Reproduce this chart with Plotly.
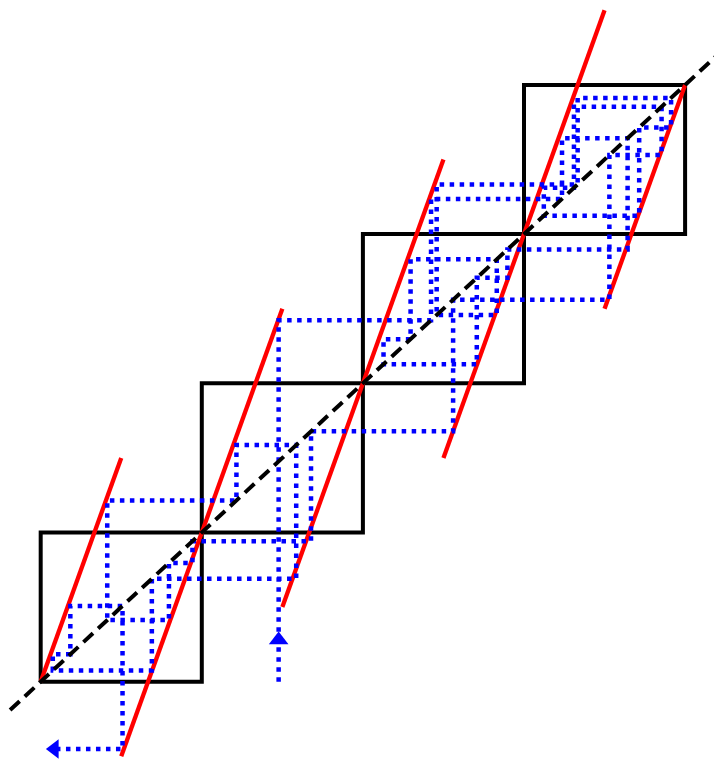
import plotly.graph_objects as go

# cobweb orbit, values (x of each vertical / y of each horizontal)
orbit = [1.477, 2.423, 3.236, 3.643, 2.897, 2.707, 2.128, 2.296, 2.831, 2.458,
         3.333, 3.913, 3.715, 3.123, 3.31, 3.854, 3.53, 2.56, 1.678, 0.942,
         0.796, 0.413, 1.215, 1.586, 0.69, 0.075, 0.184, 0.508]
orbit_end = -0.451
arrow_tip_x = 0.085
start_arrow_y = 0.28

# red map pieces (slope 3)
red_x_start = [0.0, 0.5, 1.5, 2.5, 3.5]
red_y_start = [0.0, -0.5, 0.5, 1.5, 2.5]
red_x_end = [0.5, 1.5, 2.5, 3.5, 4.0]
red_y_end = [1.5, 2.5, 3.5, 4.5, 4.0]

# unit boxes along the diagonal
box_corners = [0, 1, 2, 3]

diag = [-0.19, 4.3]

fig = go.Figure()

# boxes
bx, by = [], []
for c in box_corners:
    bx += [c, c + 1, c + 1, c, c, None]
    by += [c, c, c + 1, c + 1, c, None]
fig.add_trace(go.Scatter(x=bx, y=by, mode="lines",
                         line=dict(color="black", width=4), hoverinfo="skip"))

# red lines
rx, ry = [], []
for x0, y0, x1, y1 in zip(red_x_start, red_y_start, red_x_end, red_y_end):
    rx += [x0, x1, None]
    ry += [y0, y1, None]
fig.add_trace(go.Scatter(x=rx, y=ry, mode="lines",
                         line=dict(color="red", width=4.3), hoverinfo="skip"))

# blue cobweb path
px = [orbit[0], orbit[0]]
py = [0, orbit[1]]
for i in range(1, len(orbit)):
    nxt = orbit[i + 1] if i + 1 < len(orbit) else orbit_end
    px += [orbit[i], orbit[i]]
    py += [orbit[i], nxt]
px.append(arrow_tip_x)
py.append(orbit_end)
fig.add_trace(go.Scatter(x=px, y=py, mode="lines",
                         line=dict(color="blue", width=4.5, dash="4.5px,5.5px"),
                         hoverinfo="skip"))

# arrow heads
fig.add_trace(go.Scatter(x=[orbit[0]], y=[start_arrow_y], mode="markers",
                         marker=dict(symbol="triangle-up", size=17, color="blue"),
                         hoverinfo="skip"))
fig.add_trace(go.Scatter(x=[arrow_tip_x], y=[orbit_end], mode="markers",
                         marker=dict(symbol="triangle-left", size=17, color="blue"),
                         hoverinfo="skip"))

# dashed diagonal
fig.add_trace(go.Scatter(x=diag, y=diag, mode="lines",
                         line=dict(color="black", width=4, dash="13px,7px"),
                         hoverinfo="skip"))

fig.update_layout(
    width=714, height=759,
    margin=dict(l=0, r=0, t=0, b=0),
    showlegend=False,
    plot_bgcolor="white",
    paper_bgcolor="white",
)
fig.update_xaxes(range=[-0.2526, 4.1794], visible=False)
fig.update_yaxes(range=[-0.5181, 4.5691], visible=False)

# drop the default 8px page margin so the figure fills the window
fig.write_html("out.html", config={"displayModeBar": False},
               post_script="document.body.style.margin='0px';")
